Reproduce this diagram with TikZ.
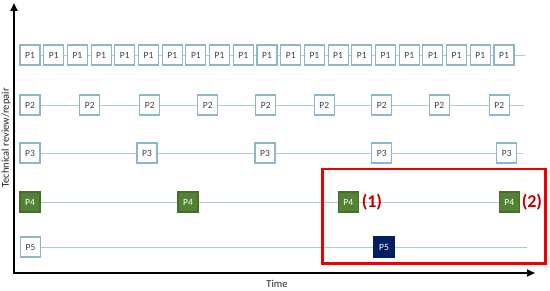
\documentclass[tikz,border=0pt]{standalone}
\usepackage{fontspec}
\setmainfont{Carlito}
\usetikzlibrary{arrows.meta, positioning, backgrounds}

\definecolor{boxblue}{HTML}{8DB6CB}
\definecolor{lineblue}{HTML}{ABCCDD}
\definecolor{pgreen}{HTML}{548235}
\definecolor{pnavy}{HTML}{002060}
\definecolor{markred}{HTML}{C00000}
\definecolor{framered}{HTML}{F00000}
\definecolor{textgray}{HTML}{404040}

\begin{document}
\begin{tikzpicture}[
    x=1pt, y=-1pt,
    pbox/.style={rectangle, draw=boxblue, line width=1.1pt, fill=white, minimum width=20pt, minimum height=20pt, inner sep=0pt, font=\fontsize{9.5}{10}\selectfont, text=textgray},
    greenbox/.style={pbox, fill=pgreen, draw=pgreen!85!black, text=white},
    navybox/.style={pbox, fill=pnavy, draw=pnavy, text=white},
    timeline/.style={draw=lineblue, line width=0.9pt},
    axis/.style={line width=2pt, {Triangle[length=8pt, width=7pt]}-{Triangle[length=8pt, width=7pt]}},
    axislabel/.style={font=\fontsize{10.5}{12}\selectfont, text=black!85},
    marker/.style={font=\fontsize{18}{20}\selectfont\bfseries, text=markred, inner sep=0pt},
    frame/.style={draw=framered, line width=2.6pt},
]
\useasboundingbox (0,0) rectangle (550,291);

% === Axes ===
\coordinate (origin) at (14,273);
\coordinate (ytip) at (14,3);
\coordinate (xtip) at (535,273);
\draw[axis] (ytip) -- (origin) -- (xtip);

\node (ylabel) [axislabel, rotate=90] at (6,138) {Technical review/repair};
\node (timelabel) [axislabel] at (277,284) {Time};

% === P1 row ===
\foreach \i in {1,...,21}
    \node (p1-\i) [pbox] at ({30+23.7*(\i-1)},55) {P1};
\coordinate (p1end) at (525,55);

% === P2 row ===
\foreach \x [count=\i] in {30,89.7,149.7,207.7,265.7,324.3,381.7,439.3,499.3}
    \node (p2-\i) [pbox] at (\x,105) {P2};
\coordinate (p2end) at (524,105);

% === P3 row ===
\foreach \x [count=\i] in {30,147,265,381.7,506.7}
    \node (p3-\i) [pbox] at (\x,153) {P3};
\coordinate (p3end) at (523,153);

% === P4 row ===
\foreach \x [count=\i] in {30,188,348.3,509.3}
    \node (p4-\i) [greenbox] at (\x,202) {P4};

\node (mark1) [marker, right=2.7pt of p4-3] {(1)};
\node (mark2) [marker, right=1.7pt of p4-4] {(2)};

% === P5 row ===
\node (p5-1) [pbox] at (30.5,247) {P5};
\node (p5-2) [navybox] at (384,247) {P5};
\coordinate (p5end) at (527,247);

% === Timelines (behind the boxes) ===
\begin{scope}[on background layer]
    \draw[timeline] (p1-1.center) -- (p1end);
    \draw[timeline] (p2-1.center) -- (p2end);
    \draw[timeline] (p3-1.center) -- (p3end);
    \draw[timeline] (p4-1.center) -- (p4-4.center);
    \draw[timeline] (p5-1.center) -- (p5end);
\end{scope}

% === Highlighted region ===
\draw[frame] (322.3,169) rectangle (545.7,263.3);

\end{tikzpicture}
\end{document}
